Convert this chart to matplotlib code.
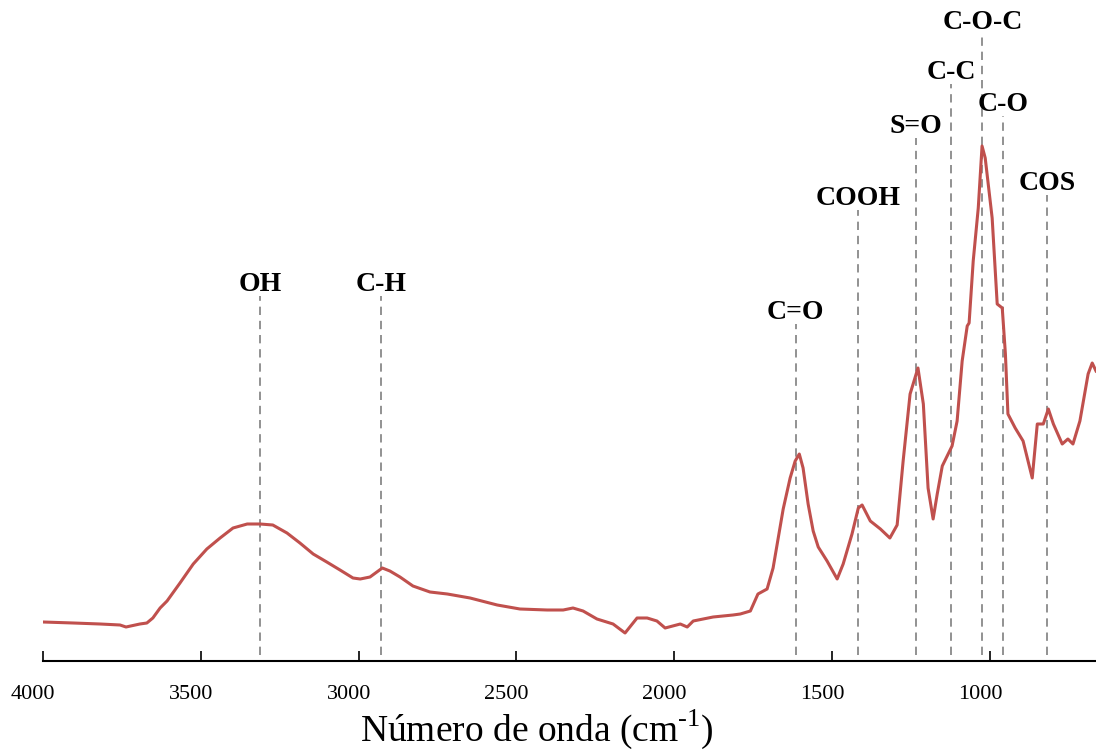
import matplotlib
matplotlib.use("Agg")
import matplotlib.pyplot as plt
from matplotlib.transforms import ScaledTranslation

# FTIR spectrum (wavenumber in cm-1, arbitrary absorbance)
wavenumber = [4000, 3904, 3819, 3756, 3737, 3693, 3671, 3652, 3629, 3607,
              3566, 3524, 3481, 3439, 3398, 3353, 3312, 3272, 3227, 3186,
              3144, 3101, 3059, 3018, 2995, 2964, 2925, 2901, 2869, 2828,
              2774, 2719, 2647, 2561, 2489, 2403, 2352, 2321, 2289, 2245,
              2194, 2156, 2118, 2086, 2055, 2029, 1981, 1959, 1940, 1877,
              1814, 1791, 1759, 1735, 1706, 1687, 1655, 1633, 1617, 1604,
              1592, 1576, 1560, 1544, 1516, 1484, 1465, 1437, 1417, 1405,
              1379, 1347, 1317, 1294, 1275, 1253, 1228, 1211, 1196, 1180,
              1167, 1151, 1120, 1104, 1088, 1072, 1066, 1053, 1037, 1025,
              1015, 993, 977, 961, 951, 943, 920, 895, 866, 850,
              831, 815, 799, 771, 753, 737, 715, 689, 676, 664]
absorbance = [0.078, 0.076, 0.074, 0.072, 0.068, 0.074, 0.076, 0.086, 0.106, 0.120,
              0.156, 0.194, 0.224, 0.246, 0.266, 0.274, 0.274, 0.272, 0.256, 0.236,
              0.214, 0.198, 0.182, 0.166, 0.164, 0.168, 0.186, 0.180, 0.168, 0.150,
              0.138, 0.134, 0.126, 0.112, 0.104, 0.102, 0.102, 0.106, 0.100, 0.084,
              0.074, 0.056, 0.086, 0.086, 0.080, 0.066, 0.074, 0.068, 0.080, 0.088,
              0.092, 0.094, 0.100, 0.134, 0.144, 0.186, 0.304, 0.366, 0.400, 0.414,
              0.386, 0.314, 0.260, 0.228, 0.200, 0.164, 0.194, 0.254, 0.306, 0.312,
              0.280, 0.264, 0.246, 0.272, 0.400, 0.534, 0.586, 0.514, 0.346, 0.284,
              0.334, 0.390, 0.430, 0.480, 0.600, 0.670, 0.676, 0.800, 0.906, 1.030,
              1.006, 0.886, 0.714, 0.706, 0.614, 0.494, 0.466, 0.440, 0.366, 0.474,
              0.474, 0.504, 0.474, 0.434, 0.444, 0.434, 0.480, 0.574, 0.596, 0.580]

# band assignments: position, label, height of the marker line
band_pos = [3312, 2930, 1615, 1418, 1234, 1122, 1024, 959, 820]
band_labels = ["OH", "C-H", "C=O", "COOH", "S=O", "C-C", "C-O-C", "C-O", "COS"]
band_top = [0.730, 0.730, 0.674, 0.902, 1.046, 1.154, 1.254, 1.090, 0.932]

xticks = [4000, 3500, 3000, 2500, 2000, 1500, 1000]

plt.rcParams['font.family'] = ['Liberation Serif', 'DejaVu Serif']
plt.rcParams['mathtext.fontset'] = 'custom'
plt.rcParams['mathtext.rm'] = 'Liberation Serif'

fig = plt.figure(figsize=(10.96, 7.52), dpi=100)
ax = fig.add_axes([43 / 1096, 91 / 752, 1 - 43 / 1096, 661 / 752])

ax.plot(wavenumber, absorbance, color='#C0504D', lw=2.2, zorder=3)

for x, lab, top in zip(band_pos, band_labels, band_top):
    ax.plot([x, x], [0.012, top], color='#7f7f7f', lw=1.2,
            linestyle=(0, (5, 3.5)), zorder=2)
    ax.text(x, top + 0.01, lab, ha='center', va='baseline',
            fontsize=20, fontweight='bold')

ax.set_xlim(4000, 664)
ax.set_ylim(0, 1.322)

for s in ['top', 'right', 'left']:
    ax.spines[s].set_visible(False)
ax.spines['bottom'].set_linewidth(1.5)
ax.set_yticks([])
ax.set_xticks(xticks)
ax.tick_params(axis='x', direction='in', length=7, width=1.2,
               labelsize=16, pad=17)
# labels sit a little left of their ticks in the original
shift = ScaledTranslation(-0.10, 0, fig.dpi_scale_trans)
for lbl in ax.get_xticklabels():
    lbl.set_transform(lbl.get_transform() + shift)

ax.set_xlabel('Número de onda (cm$^{\\mathregular{\u2010}1}$)', fontsize=27)
ax.xaxis.set_label_coords(0.469, -0.071)

fig.savefig('out.png', dpi=100)
